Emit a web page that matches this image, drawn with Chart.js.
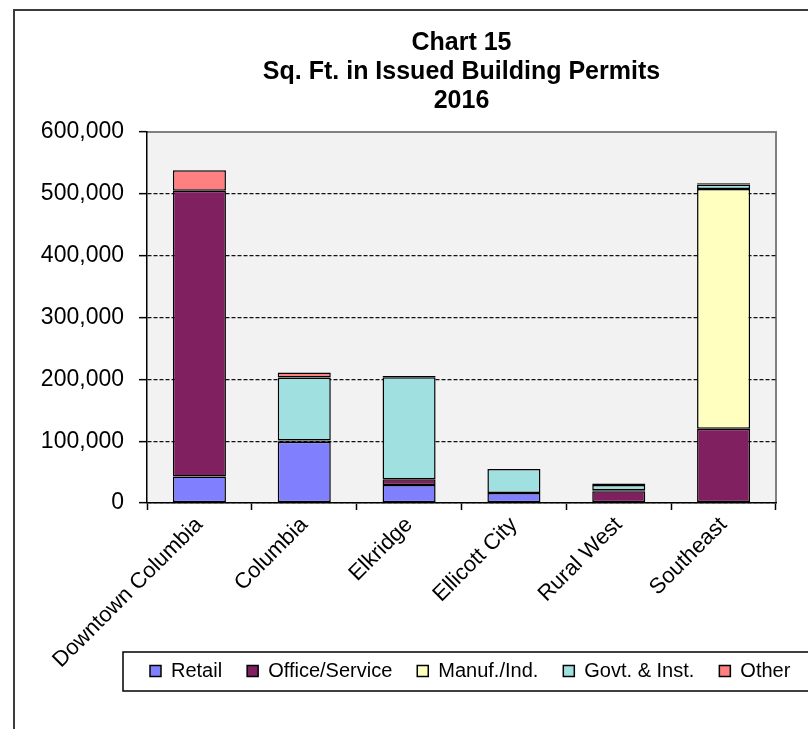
<html>
<head>
<title>Chart 15</title>
<script src="https://cdn.jsdelivr.net/npm/chart.js"></script>
<style>
    body { margin: 0; background: #fff; overflow: hidden; }
    #frame { position: absolute; left: 13px; top: 9px; width: 900px; height: 900px; border: 2px solid #3c3c3c; }
    #chart { position: absolute; left: 0; top: 0; }
</style>
</head>
<body>
<div id="frame"></div>
<canvas id="chart" width="808" height="729"></canvas>

<script>
    // areas
    const areas = ['Downtown Columbia', 'Columbia', 'Elkridge', 'Ellicott City', 'Rural West', 'Southeast'];

    // sq. ft. per permit type (0 = none)
    const retail = [43000, 99000, 29000, 16000, 0, 0];
    const officeService = [462000, 2000, 9500, 0, 19000, 120000];
    const manufInd = [0, 0, 0, 0, 1500, 388000];
    const govtInst = [0, 102000, 165000, 39000, 8500, 7000];
    const other = [33000, 8000, 2000, 0, 2500, 2000];

    const yTicks = [0, 100000, 200000, 300000, 400000, 500000, 600000];

    const FONT = "'Liberation Sans', Arial, sans-serif";

    // gray plot background with gray top/right edge
    const plotBg = {
        id: 'plotBg',
        beforeDraw(chart) {
            const {ctx, chartArea: a} = chart;
            ctx.save();
            ctx.fillStyle = '#f2f2f2';
            ctx.fillRect(a.left, a.top, a.right - a.left, a.bottom - a.top);
            ctx.strokeStyle = '#808080';
            ctx.lineWidth = 2;
            ctx.beginPath();
            ctx.moveTo(a.left, a.top);
            ctx.lineTo(a.right, a.top);
            ctx.lineTo(a.right, a.bottom);
            ctx.stroke();
            ctx.restore();
        }
    };

    // legend: start near the plot's left edge, sit higher, and get a frame
    const legendBox = {
        id: 'legendBox',
        afterLayout(chart) {
            const lg = chart.legend;
            const w = lg.right - lg.left;
            lg.left = chart.chartArea.left + 3 - lg.options.labels.padding;
            lg.right = lg.left + w;
            lg.top -= 38;
            lg.bottom -= 38;
        },
        afterDraw(chart) {
            const {ctx} = chart;
            const lg = chart.legend;
            ctx.save();
            ctx.strokeStyle = '#000';
            ctx.lineWidth = 1.5;
            ctx.strokeRect(chart.chartArea.left - 24, lg.top + 16, chart.width + 30 - chart.chartArea.left, 39);
            ctx.restore();
        }
    };

    const mk = (label, data, color) => ({
        label: label,
        data: data.map(v => v || null),
        backgroundColor: color,
        borderColor: '#000',
        borderWidth: 1.5,
        borderSkipped: false,
        barPercentage: 0.506,
        categoryPercentage: 1
    });

    new Chart(document.getElementById('chart').getContext('2d'), {
        type: 'bar',
        data: {
            labels: areas,
            datasets: [
                mk('Retail', retail, '#8080ff'),
                mk('Office/Service', officeService, '#802060'),
                mk('Manuf./Ind.', manufInd, '#ffffc0'),
                mk('Govt. & Inst.', govtInst, '#a0e0e0'),
                mk('Other', other, '#ff8080')
            ]
        },
        options: {
            responsive: false,
            animation: false,
            layout: { padding: { left: 0, right: 32, top: 0, bottom: 0 } },
            plugins: {
                title: {
                    display: true,
                    fullSize: false,
                    text: ['Chart 15', 'Sq. Ft. in Issued Building Permits', '2016'],
                    color: '#000',
                    font: { family: FONT, size: 25, weight: 'bold', lineHeight: 1.16 },
                    padding: { top: 29, bottom: 16 }
                },
                legend: {
                    position: 'bottom',
                    align: 'start',
                    labels: {
                        color: '#000',
                        font: { family: FONT, size: 20 },
                        boxWidth: 11,
                        boxHeight: 11,
                        padding: 25
                    }
                },
                tooltip: { enabled: false }
            },
            scales: {
                x: {
                    stacked: true,
                    grid: {
                        offset: true,
                        drawOnChartArea: false,
                        tickLength: 7,
                        color: '#000',
                        tickWidth: 1.5
                    },
                    border: { color: '#000', width: 1.5 },
                    ticks: {
                        color: '#000',
                        font: { family: FONT, size: 22 },
                        minRotation: 45,
                        maxRotation: 45,
                        autoSkip: false,
                        padding: 2
                    },
                    afterFit(scale) { scale.height = 171; }
                },
                y: {
                    stacked: true,
                    min: 0,
                    max: 600000,
                    afterBuildTicks(scale) { scale.ticks = yTicks.map(v => ({value: v})); },
                    grid: {
                        color: ctx => (ctx.tick && ctx.tick.value === 600000) ? '#808080' : '#111',
                        lineWidth: 1.3,
                        tickLength: 8,
                        tickColor: '#000',
                        tickBorderDash: [],
                        tickWidth: 1.5
                    },
                    border: { color: '#000', width: 1.5, dash: [4, 2] },
                    ticks: {
                        color: '#000',
                        font: { family: FONT, size: 23 },
                        padding: 15,
                        callback: v => v.toLocaleString('en-US')
                    },
                    afterFit(scale) { scale.width = 147; }
                }
            }
        },
        plugins: [plotBg, legendBox]
    });
</script>
</body>
</html>
